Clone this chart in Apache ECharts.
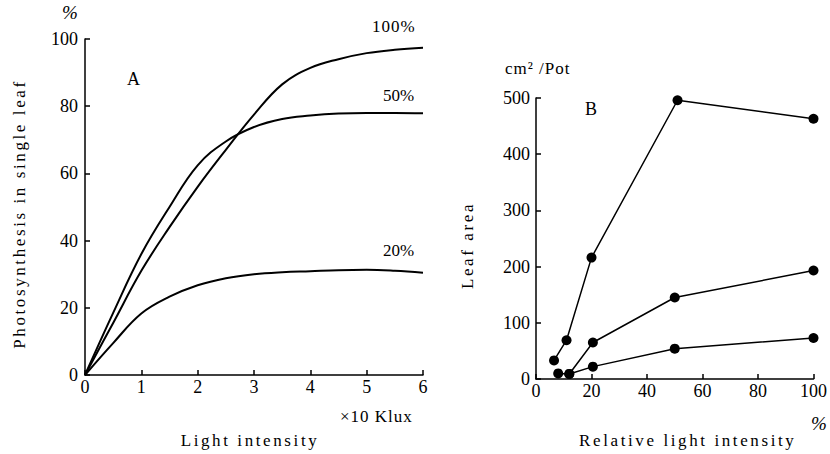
<!DOCTYPE html>
<html>
<head>
<meta charset="utf-8">
<script src="https://cdn.jsdelivr.net/npm/echarts@6/dist/echarts.min.js"></script>
<style>
  html, body { margin: 0; padding: 0; background: #fff; }
  #main { width: 830px; height: 454px; }
</style>
</head>
<body>
<div id="main"></div>
<script>
// A: photosynthesis of a single leaf vs light intensity (x10 klux)
const lightKlux = [0, 0.5, 1, 1.5, 2, 2.5, 3, 3.5, 4, 4.5, 5, 5.5, 6]
const photo100 = [0, 15.5, 31, 44, 56, 67, 77.5, 86.5, 91.4, 94, 95.8, 96.8, 97.4]
const photo50 = [0, 18.5, 36, 50, 62.4, 69.5, 73.8, 76.2, 77.2, 77.8, 78, 78, 77.9]
const photo20 = [0, 9.5, 18.3, 23.3, 26.7, 28.8, 30, 30.6, 30.9, 31.2, 31.3, 31, 30.4]

// B: leaf area per pot vs relative light intensity (%)
const topX = [6.5, 11, 20, 51, 100]
const topY = [33, 69, 216, 496, 463]
const midX = [8, 12, 20.5, 50, 100]
const midY = [10, 9, 65, 145, 193]
const lowX = [12, 20.5, 50, 100]
const lowY = [9, 22, 54, 73]

const FONT = "'Liberation Serif', 'DejaVu Serif', serif"
const zip = (xs, ys) => xs.map((x, i) => [x, ys[i]])

const chart = echarts.init(document.getElementById('main'), null, { renderer: 'svg' })

const axisBase = {
    axisLine: { lineStyle: { color: '#000', width: 1.5 } },
    axisTick: { inside: true, length: 5, lineStyle: { color: '#000', width: 1.5 } },
    splitLine: { show: false },
    axisLabel: { color: '#000', fontFamily: FONT, fontSize: 18 },
    nameTextStyle: { color: '#000', fontFamily: FONT, fontSize: 17 }
}

const lineSeries = (data, xi) => ({
    type: 'line',
    xAxisIndex: xi,
    yAxisIndex: xi,
    data: data,
    smooth: 0.4,
    symbol: 'none',
    lineStyle: { color: '#000', width: 2 }
})

const dotSeries = (data) => ({
    type: 'line',
    xAxisIndex: 1,
    yAxisIndex: 1,
    data: data,
    symbol: 'circle',
    symbolSize: 10,
    itemStyle: { color: '#000' },
    lineStyle: { color: '#000', width: 1.5 }
})

const txt = (x, y, text, size, italic) => ({
    type: 'text',
    left: x,
    top: y,
    style: { text: text, fill: '#000', font: (italic ? 'italic ' : '') + size + 'px ' + FONT }
})

const option = {
    animation: false,
    grid: [
        { left: 85, right: 407, top: 39, bottom: 75 },
        { left: 536, right: 10, top: 98, bottom: 73 }
    ],
    xAxis: [
        Object.assign({}, axisBase, {
            gridIndex: 0, type: 'value', min: 0, max: 6, interval: 1,
            axisLabel: Object.assign({}, axisBase.axisLabel, { margin: 3 }),
            name: 'Light intensity', nameLocation: 'middle', nameGap: 57,
            nameTextStyle: Object.assign({}, axisBase.nameTextStyle, { padding: [0, 8, 0, 0] })
        }),
        Object.assign({}, axisBase, {
            gridIndex: 1, type: 'value', min: 0, max: 100, interval: 20,
            axisLabel: Object.assign({}, axisBase.axisLabel, { margin: 3 }),
            name: 'Relative light intensity', nameLocation: 'middle', nameGap: 53,
            nameTextStyle: Object.assign({}, axisBase.nameTextStyle, { padding: [0, 0, 0, 26] })
        })
    ],
    yAxis: [
        Object.assign({}, axisBase, {
            gridIndex: 0, type: 'value', min: 0, max: 100, interval: 20,
            axisLabel: Object.assign({}, axisBase.axisLabel, { margin: 7 }),
            name: 'Photosynthesis in single leaf', nameLocation: 'middle', nameGap: 57,
            nameTextStyle: Object.assign({}, axisBase.nameTextStyle, { padding: [0, 14, 0, 0] })
        }),
        Object.assign({}, axisBase, {
            gridIndex: 1, type: 'value', min: 0, max: 500, interval: 100,
            axisLabel: Object.assign({}, axisBase.axisLabel, { margin: 6 }),
            name: 'Leaf area', nameLocation: 'middle', nameGap: 60,
            nameTextStyle: Object.assign({}, axisBase.nameTextStyle, { padding: [0, 14, 0, 0] })
        })
    ],
    series: [
        lineSeries(zip(lightKlux, photo100), 0),
        lineSeries(zip(lightKlux, photo50), 0),
        lineSeries(zip(lightKlux, photo20), 0),
        dotSeries(zip(topX, topY)),
        dotSeries(zip(midX, midY)),
        dotSeries(zip(lowX, lowY))
    ],
    graphic: [
        txt(62, 3, '%', 19, true),
        txt(127, 70, 'A', 18),
        txt(372, 18, '100%', 17),
        txt(383, 87, '50%', 17),
        txt(383, 242, '20%', 17),
        txt(340, 408, '×10 Klux', 17),
        txt(505, 60, 'cm² /Pot', 17),
        txt(585, 100, 'B', 18),
        txt(811, 414, '%', 19, true)
    ]
}

chart.setOption(option)

// widen the letter spacing of the long captions like the printed figure
const spaceOut = () => {
    document.querySelectorAll('#main text').forEach(t => {
        const s = t.textContent
        if (s.length > 8) t.setAttribute('letter-spacing', '2.6')
        else if (s.length > 3) t.setAttribute('letter-spacing', '1')
    })
}
spaceOut()
chart.on('finished', spaceOut)
</script>
</body>
</html>
